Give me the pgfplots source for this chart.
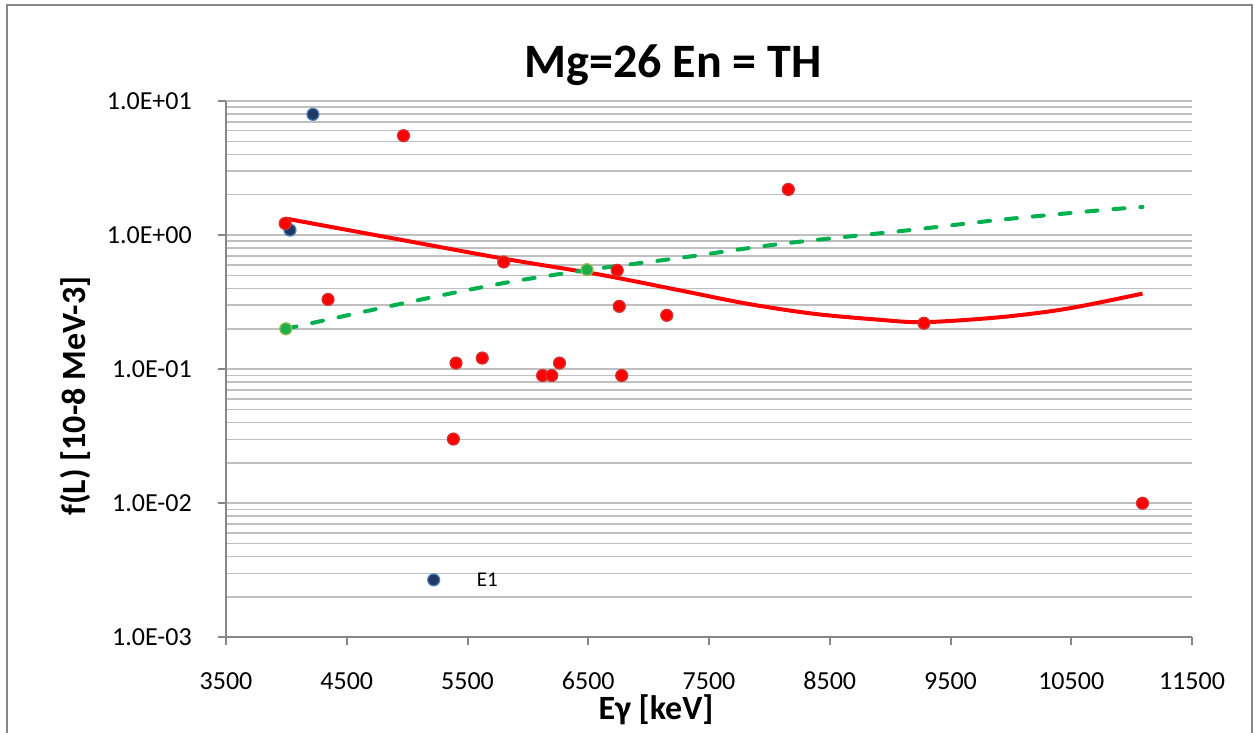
\documentclass[border=0pt]{standalone}
\usepackage{fontspec}
\setmainfont{Carlito}
\usepackage{pgfplots}
\pgfplotsset{compat=1.18}
\definecolor{gridgray}{HTML}{BFBFBF}
\definecolor{axgray}{HTML}{878787}
\definecolor{redfill}{HTML}{FF0000}
\definecolor{rededge}{HTML}{D03535}
\definecolor{bluefill}{HTML}{1F3864}
\definecolor{blueedge}{HTML}{4F81BD}
\definecolor{greenfill}{HTML}{1DAF4A}
\definecolor{greenedge}{HTML}{9BBB59}
\definecolor{trendgreen}{HTML}{00B050}
\begin{document}
\begin{tikzpicture}[x=1pt,y=1pt]
\useasboundingbox (0,0) rectangle (1255,733);
\draw[axgray, line width=2pt] (7,-2) -- (7,728) -- (1252,728) -- (1252,-2);
\begin{axis}[
  at={(226pt,95.7pt)}, anchor=south west,
  scale only axis, width=966pt, height=536.3pt,
  xmin=3500, xmax=11500, ymin=0.001, ymax=10, ymode=log,
  scaled x ticks=false, scaled y ticks=false,
  axis x line*=bottom, axis y line*=left,
  axis line style={axgray, line width=2pt},
  xtick={3500,4500,5500,6500,7500,8500,9500,10500,11500},
  xticklabels={3500,4500,5500,6500,7500,8500,9500,10500,11500},
  ytick={0.001,0.01,0.1,1,10},
  yticklabels={1.0E-03,1.0E-02,1.0E-01,1.0E+00,1.0E+01},
  tick align=outside,
  major tick length=8pt, minor tick length=0pt,
  tick style={axgray, line width=2pt},
  ymajorgrids, yminorgrids,
  major grid style={gridgray, line width=1.5pt},
  minor grid style={gridgray, line width=1.5pt},
  ticklabel style={font=\fontsize{26}{30}\selectfont, inner sep=0pt},
  xticklabel style={anchor=center, yshift=-35.7pt},
  yticklabel style={anchor=east, xshift=-26pt},
  /pgf/number format/assume math mode=true,
  clip=false,
]
% E1 (blue)
\addplot[only marks, mark=*, mark size=6pt, mark options={fill=bluefill, draw=blueedge, line width=1.2pt}]
  coordinates {(4220,7.95) (4030,1.09) (5220,0.00268)};
% green points
\addplot[only marks, mark=*, mark size=6pt, mark options={fill=greenfill, draw=greenedge, line width=1.2pt}]
  coordinates {(3995,0.200) (6490,0.552)};
% red points
\addplot[only marks, mark=*, mark size=6pt, mark options={fill=redfill, draw=rededge, line width=1.2pt}]
  coordinates {
  (3990,1.22) (4970,5.51) (4345,0.331) (5800,0.63) (6740,0.546) (6757,0.294)
  (7150,0.252) (8157,2.19) (9280,0.22) (5405,0.111) (5622,0.121) (6122,0.0896)
  (6197,0.0896) (6262,0.111) (6777,0.0896) (5383,0.0301) (11090,0.01)};
% red trend line
\addplot[smooth, no marks, draw=redfill, line width=4pt]
  coordinates {
  (3990,1.33) (4940,0.925) (5800,0.667) (6597,0.507) (7260,0.387) (7812,0.308)
  (8364,0.259) (8900,0.234) (9280,0.224) (9910,0.244) (10462,0.282) (11090,0.366)};
% green dashed trend line
\addplot[smooth, no marks, draw=trendgreen, line width=4pt, line cap=round, dash pattern=on 11pt off 16pt]
  coordinates {
  (3995,0.200) (4968,0.310) (5796,0.438) (6487,0.548) (7260,0.676) (8088,0.858)
  (9165,1.09) (9910,1.30) (10738,1.53) (11090,1.62)};
\node[anchor=west, inner sep=0pt, xshift=43pt, font=\fontsize{21}{25}\selectfont] at (axis cs:5220,0.00268) {E1};
\end{axis}
\node[anchor=base, font=\fontsize{48}{58}\selectfont\bfseries] at (673,655) {Mg=26 En = TH};
\node[anchor=base, font=\fontsize{34}{40}\selectfont\bfseries] at (656,13) {Eγ [keV]};
\node[anchor=base, rotate=90, font=\fontsize{34}{40}\selectfont\bfseries] at (85,337) {f(L) [10-8 MeV-3]};
\end{tikzpicture}
\end{document}
